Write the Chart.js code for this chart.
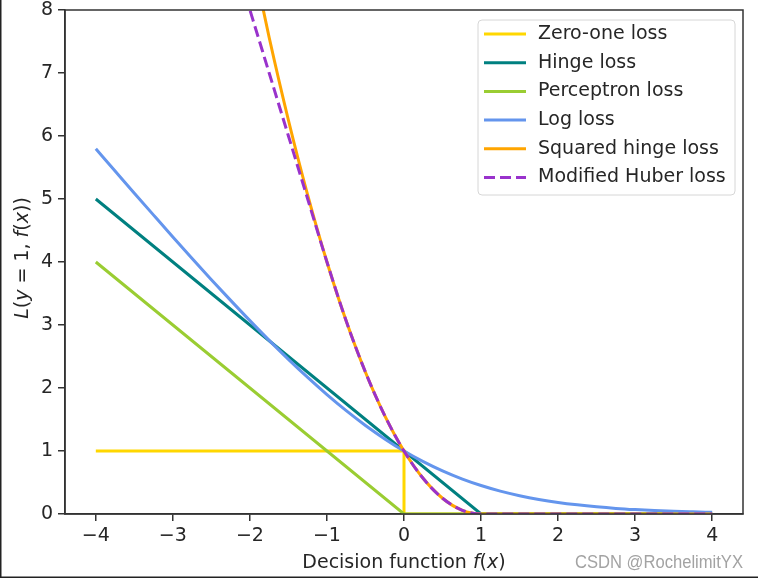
<!DOCTYPE html>
<html>
<head>
<meta charset="utf-8">
<script src="https://cdn.jsdelivr.net/npm/chart.js@4.4.1/dist/chart.umd.min.js"></script>
<style>
  html, body { margin: 0; padding: 0; background: #fff; }
  #wrap { width: 758px; height: 578px; position: relative; }
</style>
</head>
<body>
<div id="wrap"><canvas id="chart" width="758" height="578"></canvas></div>
<script>
/* ── data ── */
const xTicks = [-4, -3, -2, -1, 0, 1, 2, 3, 4];
const yTicks = [0, 1, 2, 3, 4, 5, 6, 7, 8];

// sample points for the curved losses
const xCurve = [-4, -3.75, -3.5, -3.25, -3, -2.75, -2.5, -2.25, -2, -1.75, -1.5, -1.25, -1,
  -0.75, -0.5, -0.25, 0, 0.25, 0.5, 0.75, 1, 1.25, 1.5, 1.75, 2, 2.25, 2.5, 2.75, 3, 3.25,
  3.5, 3.75, 4];
const logLoss = [5.797, 5.444, 5.092, 4.744, 4.398, 4.057, 3.720, 3.391, 3.069, 2.756, 2.455,
  2.167, 1.895, 1.640, 1.405, 1.192, 1.0, 0.831, 0.684, 0.558, 0.452, 0.363, 0.291, 0.231,
  0.183, 0.145, 0.114, 0.089, 0.070, 0.055, 0.043, 0.034, 0.026];
const sqHingeLoss = [25, 22.5625, 20.25, 18.0625, 16, 14.0625, 12.25, 10.5625, 9, 7.5625, 6.25,
  5.0625, 4, 3.0625, 2.25, 1.5625, 1, 0.5625, 0.25, 0.0625, 0, 0, 0, 0, 0, 0, 0, 0, 0, 0, 0, 0, 0];
const modHuberLoss = [16, 15, 14, 13, 12, 11, 10, 9, 8, 7, 6, 5, 4, 3.0625, 2.25, 1.5625, 1,
  0.5625, 0.25, 0.0625, 0, 0, 0, 0, 0, 0, 0, 0, 0, 0, 0, 0, 0];

// piecewise-linear losses
const zeroOneX = [-4, 0, 0, 4];
const zeroOneY = [1, 1, 0, 0];
const hingeX = [-4, 1, 4];
const hingeY = [5, 0, 0];
const perceptronX = [-4, 0, 4];
const perceptronY = [4, 0, 0];

const seriesNames = ['Zero-one loss', 'Hinge loss', 'Perceptron loss', 'Log loss',
  'Squared hinge loss', 'Modified Huber loss'];
const seriesColors = ['#FFD700', '#008080', '#9ACD32', '#6495ED', '#FFA500', '#9932CC'];

const FONT = '"DejaVu Sans", sans-serif';
const FS = 19;

function pts(xs, ys) {
  return xs.map((x, i) => ({ x, y: ys[i] }));
}

const seriesData = [
  pts(zeroOneX, zeroOneY),
  pts(hingeX, hingeY),
  pts(perceptronX, perceptronY),
  pts(xCurve, logLoss),
  pts(xCurve, sqHingeLoss),
  pts(xCurve, modHuberLoss),
];

const datasets = seriesNames.map((name, i) => ({
  label: name,
  data: seriesData[i],
  borderColor: seriesColors[i],
  backgroundColor: seriesColors[i],
  borderWidth: 3,
  pointRadius: 0,
  fill: false,
  cubicInterpolationMode: i >= 3 ? 'monotone' : 'default',
  borderDash: i === 5 ? [11, 5] : [],
  order: 6 - i, // later series on top, like matplotlib
}));

/* ── helper: text made of upright / italic pieces ── */
function richWidth(ctx, segs) {
  let w = 0;
  segs.forEach(([t, it]) => {
    ctx.font = (it ? 'italic ' : '') + FS + 'px ' + FONT;
    w += ctx.measureText(t).width;
  });
  return w;
}
function drawRich(ctx, segs, x0) {
  let x = x0;
  segs.forEach(([t, it]) => {
    ctx.font = (it ? 'italic ' : '') + FS + 'px ' + FONT;
    ctx.fillText(t, x, 0);
    x += ctx.measureText(t).width;
  });
}

const decor = {
  id: 'decor',
  afterDraw(chart) {
    const { ctx, chartArea: a } = chart;
    ctx.save();

    // axes frame
    ctx.strokeStyle = '#333';
    ctx.lineWidth = 1.5;
    ctx.strokeRect(a.left, a.top, a.right - a.left, a.bottom - a.top);

    // legend box
    const bx = 478, by = 20, bw = 257, bh = 175, r = 4;
    ctx.beginPath();
    ctx.roundRect(bx, by, bw, bh, r);
    ctx.fillStyle = 'rgba(255,255,255,0.85)';
    ctx.fill();
    ctx.strokeStyle = '#d6d6d6';
    ctx.lineWidth = 1;
    ctx.stroke();

    ctx.textBaseline = 'middle';
    ctx.textAlign = 'left';
    seriesNames.forEach((name, i) => {
      const cy = 34 + i * 28.7;
      ctx.beginPath();
      ctx.setLineDash(i === 5 ? [11, 5] : []);
      ctx.moveTo(484, cy);
      ctx.lineTo(526, cy);
      ctx.strokeStyle = seriesColors[i];
      ctx.lineWidth = 3;
      ctx.stroke();
      ctx.setLineDash([]);
      ctx.fillStyle = '#262626';
      ctx.font = FS + 'px ' + FONT;
      ctx.fillText(name, 538, cy);
    });

    // x axis title
    ctx.fillStyle = '#262626';
    ctx.textBaseline = 'middle';
    const xSegs = [['Decision function ', false], ['f', true], ['(', false], ['x', true], [')', false]];
    ctx.save();
    ctx.translate((a.left + a.right) / 2, 563);
    drawRich(ctx, xSegs, -richWidth(ctx, xSegs) / 2);
    ctx.restore();

    // y axis title
    const ySegs = [['L', true], ['(', false], ['y', true], [' = 1, ', false], ['f', true],
      ['(', false], ['x', true], ['))', false]];
    ctx.save();
    ctx.translate(23, (a.top + a.bottom) / 2 - 4);
    ctx.rotate(-Math.PI / 2);
    drawRich(ctx, ySegs, -richWidth(ctx, ySegs) / 2);
    ctx.restore();

    // watermark
    ctx.save();
    ctx.font = '18px "Liberation Sans", sans-serif';
    const wm = 'CSDN @RochelimitYX';
    const ww = ctx.measureText(wm).width;
    const sx = 168 / ww;
    ctx.translate(575, 563);
    ctx.scale(sx, 1);
    ctx.fillStyle = '#a3a3a3';
    ctx.textAlign = 'left';
    ctx.textBaseline = 'middle';
    ctx.fillText(wm, 0, 0);
    ctx.restore();

    // screenshot edge (left + bottom)
    ctx.fillStyle = '#222';
    ctx.fillRect(0, 0, 1.5, 578);
    ctx.fillRect(0, 576.5, 758, 1.5);

    ctx.restore();
  },
};

const tickFmt = (v) => String(v).replace('-', '\u2212');

new Chart(document.getElementById('chart'), {
  type: 'line',
  data: { datasets },
  options: {
    responsive: false,
    animation: false,
    devicePixelRatio: 1,
    layout: { padding: { left: 0, right: 15, top: 10, bottom: 0 } },
    plugins: {
      legend: { display: false },
      tooltip: { enabled: false },
    },
    scales: {
      x: {
        type: 'linear',
        min: -4.4,
        max: 4.4,
        afterBuildTicks: (s) => { s.ticks = xTicks.map((v) => ({ value: v })); },
        afterFit: (s) => { s.height = 64; s.paddingLeft = 0; s.paddingRight = 0; },
        grid: { drawOnChartArea: false, drawTicks: true, tickLength: 7, color: '#333', lineWidth: 1.5 },
        border: { display: true, color: '#333', width: 1.5 },
        ticks: {
          color: '#262626',
          padding: 4,
          maxRotation: 0,
          font: { family: FONT, size: FS },
          callback: tickFmt,
        },
      },
      y: {
        type: 'linear',
        min: 0,
        max: 8,
        afterBuildTicks: (s) => { s.ticks = yTicks.map((v) => ({ value: v })); },
        afterFit: (s) => { s.width = 65; s.paddingTop = 0; s.paddingBottom = 0; },
        grid: { drawOnChartArea: false, drawTicks: true, tickLength: 7, color: '#333', lineWidth: 1.5 },
        border: { display: true, color: '#333', width: 1.5 },
        ticks: {
          color: '#262626',
          padding: 5,
          font: { family: FONT, size: FS },
          callback: tickFmt,
        },
      },
    },
  },
  plugins: [decor],
});
</script>
</body>
</html>
